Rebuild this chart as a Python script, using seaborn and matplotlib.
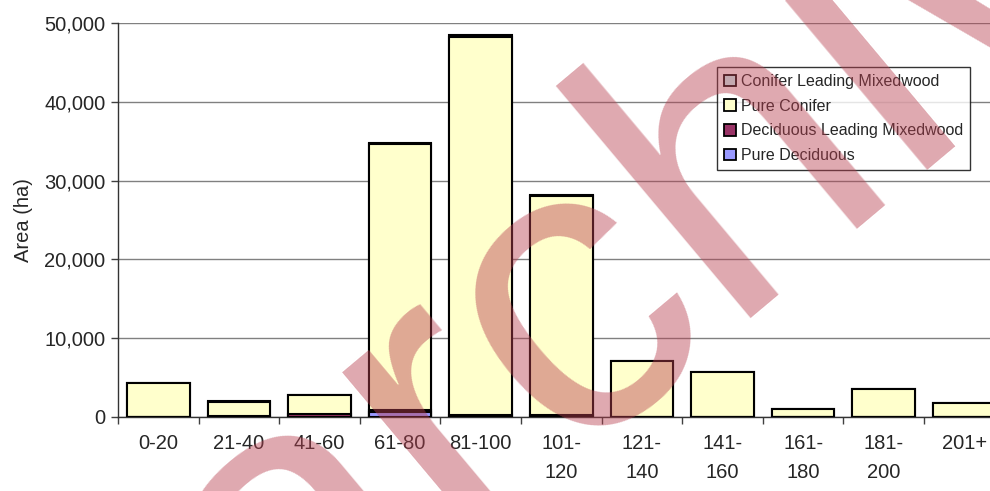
import numpy as np
import pandas as pd
import seaborn as sns
import matplotlib.pyplot as plt
from matplotlib.patches import Patch
from matplotlib.ticker import FuncFormatter, FixedLocator

# age classes and stacked series (ha), bottom to top
age_classes = ["0-20", "21-40", "41-60", "61-80", "81-100", "101-\n120",
               "121-\n140", "141-\n160", "161-\n180", "181-\n200", "201+"]
pure_deciduous = [0, 0, 0, 650, 0, 0, 0, 0, 0, 0, 0]
deciduous_leading = [0, 80, 400, 300, 200, 200, 0, 0, 0, 0, 0]
pure_conifer = [4300, 1800, 2430, 33700, 48050, 27850, 7100, 5650, 1050, 3600, 1800]
conifer_leading = [0, 170, 0, 180, 180, 180, 0, 0, 0, 0, 0]

series_names = ["Pure Deciduous", "Deciduous Leading Mixedwood",
                "Pure Conifer", "Conifer Leading Mixedwood"]
series_colors = ["#9999FF", "#993366", "#FFFFCC", "#CCFFFF"]

sns.set_theme(style="white")
plt.rcParams['font.family'] = ['Liberation Sans', 'DejaVu Sans']

df = pd.DataFrame({"age": age_classes,
                   series_names[0]: pure_deciduous,
                   series_names[1]: deciduous_leading,
                   series_names[2]: pure_conifer,
                   series_names[3]: conifer_leading})

fig = plt.figure(figsize=(9.9, 4.91), dpi=100)
ax = fig.add_axes([118 / 990, 74 / 491, 886.6 / 990, 394 / 491])

# stacked bars: draw cumulative totals from the top series down
cum = df[series_names].cumsum(axis=1)
for name, color in reversed(list(zip(series_names, series_colors))):
    sns.barplot(x=df["age"], y=cum[name], color=color, edgecolor="black",
                linewidth=1.5, width=0.775, saturation=1, ax=ax, zorder=3)

ax.set_xlim(-0.5, len(age_classes) - 0.5)
ax.set_ylim(0, 50000)
ax.set_yticks(np.arange(0, 50001, 10000))
ax.yaxis.set_major_formatter(FuncFormatter(lambda v, p: f"{int(v):,}"))
ax.yaxis.grid(True, color="#808080", linewidth=1)
ax.set_axisbelow(True)

ax.set_xlabel("")
ax.set_ylabel("Area (ha)", fontsize=14.5, labelpad=8)
ax.tick_params(axis="y", labelsize=14.5, length=5, width=1, color="#404040",
               direction="out", left=True, pad=4)
ax.tick_params(axis="x", which="major", labelsize=14.5, length=0, pad=12)
ax.xaxis.set_minor_locator(FixedLocator(np.arange(-0.5, len(age_classes), 1)))
ax.tick_params(axis="x", which="minor", length=5, width=1, color="#404040",
               direction="out", bottom=True)
for lbl in ax.get_xticklabels():
    lbl.set_linespacing(1.7)

for side in ["top", "right"]:
    ax.spines[side].set_visible(False)
for side in ["left", "bottom"]:
    ax.spines[side].set_color("#333333")
    ax.spines[side].set_linewidth(1)

handles = [Patch(facecolor=c, edgecolor="black", linewidth=1.3, label=n)
           for n, c in zip(series_names, series_colors)][::-1]
leg = ax.legend(handles=handles, loc="upper left",
                bbox_to_anchor=((717 - 118) / 886.6, (417 - 67) / 394),
                frameon=True, fancybox=False, fontsize=11.5, handlelength=0.75,
                handleheight=0.75, handletextpad=0.3, labelspacing=0.6,
                borderpad=0.45, borderaxespad=0)
leg.get_frame().set_edgecolor("black")
leg.get_frame().set_linewidth(1)
leg.set_zorder(5)

# watermark
fig.text(0.285, -0.42, "archived", fontsize=300, color="#B84050", alpha=0.45,
         rotation=40, rotation_mode="anchor", ha="left", va="baseline",
         zorder=10)

fig.savefig("out.png", dpi=100)
